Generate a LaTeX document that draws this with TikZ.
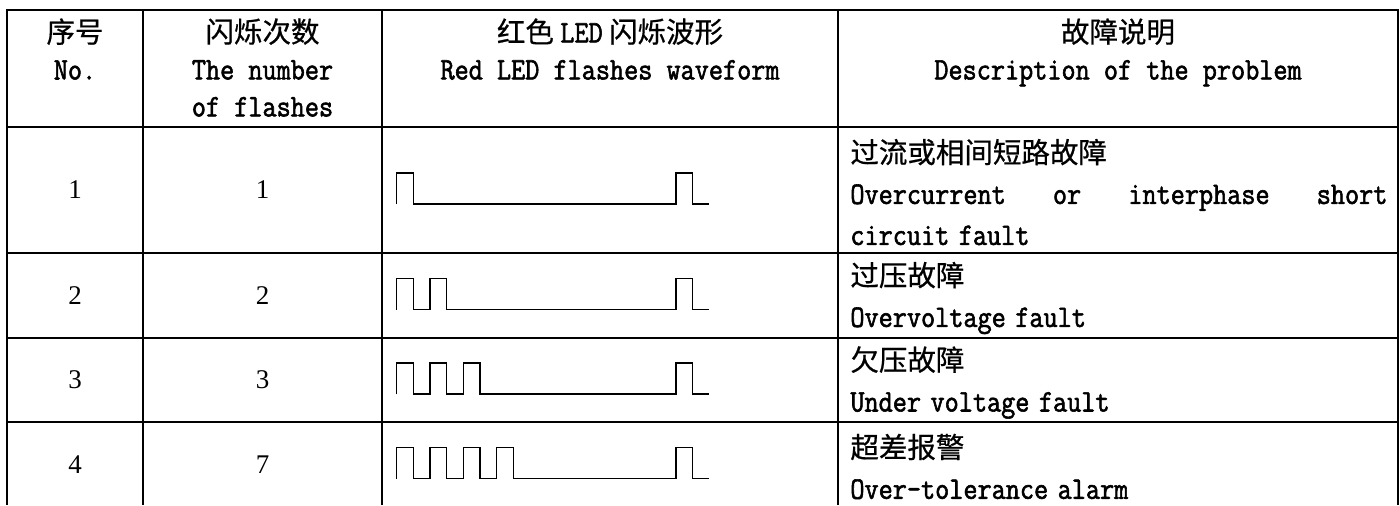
\documentclass[tikz,border=0pt]{standalone}
\usepackage{fontspec}
\setmainfont{Liberation Serif}
\newfontfamily\zhfont[FakeBold=0.6]{Noto Sans CJK SC}
\newfontfamily\enfont[Scale=1.1,FakeStretch=0.875,FakeBold=1.8]{Latin Modern Mono}
\usetikzlibrary{positioning}

\begin{document}
\begin{tikzpicture}[x=0.5pt,y=-0.5pt,
        rule/.style={line width=0.85pt},
        wave/.style={line width=0.7pt,line join=miter},
        head/.style={anchor=north,align=center,inner sep=0pt,
            font=\zhfont\fontsize{14.25pt}{18.5pt}\selectfont},
        num/.style={inner sep=0pt,font=\fontsize{13.5pt}{16pt}\selectfont},
        desc/.style={anchor=west,align=left,inner sep=0pt,text width=268.5pt,
            font=\zhfont\fontsize{14.25pt}{20.5pt}\selectfont}]
    \useasboundingbox (0,0) rectangle (1400,505);
    % table rules
    \draw[rule] (7,505) -- (7,10) -- (1398,10) -- (1398,505);
    \foreach \y in {127,253,338,422}
        \draw[rule] (7,\y) -- (1398,\y);
    \foreach \x in {143,382,838}
        \draw[rule] (\x,10) -- (\x,505);
    % header
    \node[head] (hno) at (75,18) {序号\\{\enfont No.}};
    \node[head] (hcnt) at (262.5,18) {闪烁次数\\{\enfont The number}\\{\enfont of flashes}};
    \node[head] (hwave) at (610,18) {红色 {\enfont LED} 闪烁波形\\{\enfont Red LED flashes waveform}};
    \node[head] (hdesc) at (1118,18) {故障说明\\{\enfont Description of the problem}};
    % rows: number, count, waveform
    \foreach \r/\yc/\n/\c in {1/190/1/1,2/295.5/2/2,3/380/3/3,4/464.5/4/7}{
        \node[num] (no\r) at (75,\yc) {\r};
        \node[num] (cnt\r) at (262.5,\yc) {\c};
        \draw[wave] (396.7,\yc+14)
            \foreach \k in {1,...,\n}{ -- ++(0,-31) -- ++(16.67,0) -- ++(0,31) -- ++(16.67,0) }
            -- (676,\yc+14) -- ++(0,-31) -- ++(16.7,0) -- ++(0,31) -- ++(16.3,0);
    }
    % descriptions
    \node[desc] (desc1) at (850,192) {过流或相间短路故障\\
        {\enfont\makebox[268.5pt][s]{Overcurrent\hfill or\hfill interphase\hfill short}}\\
        {\enfont circuit fault}};
    \node[desc] (desc2) at (850,298) {过压故障\\{\enfont Overvoltage fault}};
    \node[desc] (desc3) at (850,382.5) {欠压故障\\{\enfont Under voltage fault}};
    \node[desc] (desc4) at (850,466.5) {超差报警\\{\enfont Over-tolerance alarm}};
\end{tikzpicture}
\end{document}
